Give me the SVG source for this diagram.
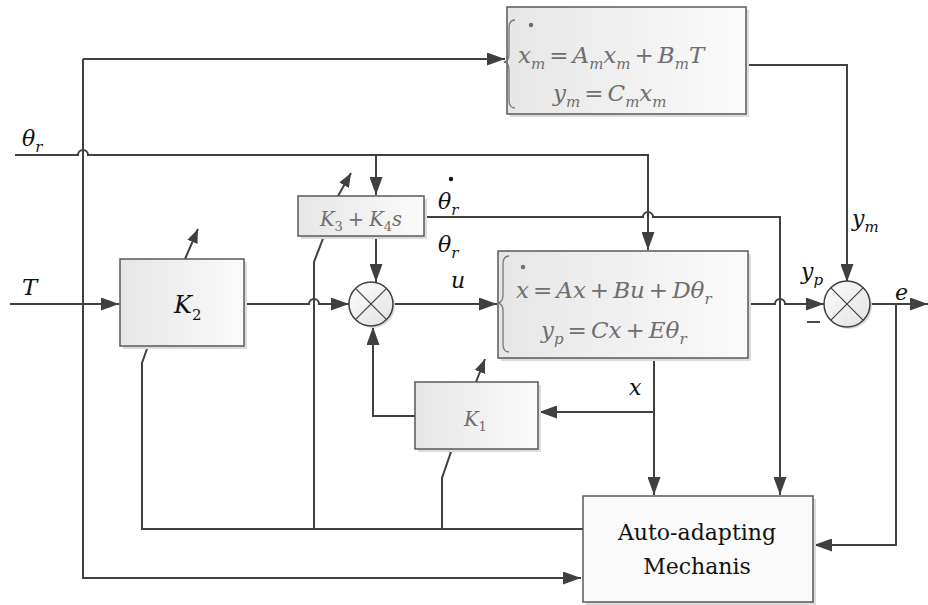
<svg xmlns="http://www.w3.org/2000/svg" width="928" height="605" viewBox="0 0 928 605" font-family="'DejaVu Serif', 'Liberation Serif', serif">
<style>
.ln{fill:none;stroke:#404040;stroke-width:2}
.box{stroke:#5a5a5a;stroke-width:1.5;fill:url(#bg)}
.shd{fill:#dcdcdc;stroke:none}
.sum{stroke:#404040;stroke-width:1.5;fill:url(#sg)}
.x{stroke:#404040;stroke-width:1.2}
.lab{font-style:italic;fill:#111}
.eq{font-style:italic;fill:#6e6e6e;font-size:23px}
.up{font-style:normal}
.br{fill:none;stroke:#777;stroke-width:1.3}
.txt{font-size:22px;fill:#111;text-anchor:middle}
</style>
<defs>
<linearGradient id="bg" x1="0" y1="0" x2="1" y2="0"><stop offset="0" stop-color="#e6e6e6"/><stop offset="1" stop-color="#fbfbfb"/></linearGradient>
<linearGradient id="sg" x1="0" y1="0" x2="1" y2="1"><stop offset="0" stop-color="#fdfdfd"/><stop offset="1" stop-color="#e2e2e2"/></linearGradient>
<marker id="ar" markerUnits="userSpaceOnUse" markerWidth="18" markerHeight="13" refX="18" refY="6.5" orient="auto"><path d="M0,0 L18,6.5 L0,13 z" fill="#404040"/></marker>
<marker id="as" markerUnits="userSpaceOnUse" markerWidth="14" markerHeight="11" refX="14" refY="5.5" orient="auto"><path d="M0,0 L14,5.5 L0,11 z" fill="#404040"/></marker>
</defs>
<rect width="928" height="605" fill="#fff"/>

<g id="connectors">
<path class="ln" d="M83,59 L505,59" marker-end="url(#ar)"/>
<path class="ln" d="M83,59 L83,578 L581,578" marker-end="url(#ar)"/>
<path class="ln" d="M15,155 L78,155 A5,5 0 0 1 88,155 L648,155 L648,250" marker-end="url(#ar)"/>
<path class="ln" d="M376,155 L376,195" marker-end="url(#ar)"/>
<path class="ln" d="M424,217 L643,217 A5,5 0 0 1 653,217 L780,217 L780,495" marker-end="url(#ar)"/>
<path class="ln" d="M376,236 L376,282" marker-end="url(#ar)"/>
<path class="ln" d="M10,304 L119,304" marker-end="url(#ar)"/>
<path class="ln" d="M244,304 L309,304 A5,5 0 0 1 319,304 L349,304" marker-end="url(#ar)"/>
<path class="ln" d="M393,304 L497,304" marker-end="url(#ar)"/>
<path class="ln" d="M748,304 L775,304 A5,5 0 0 1 785,304 L824,304" marker-end="url(#ar)"/>
<path class="ln" d="M746,65 L847,65 L847,282" marker-end="url(#ar)"/>
<path class="ln" d="M870,304 L928,304" marker-end="url(#ar)"/>
<path class="ln" d="M896,304 L896,545 L814,545" marker-end="url(#ar)"/>
<path class="ln" d="M654,358 L654,495" marker-end="url(#ar)"/>
<path class="ln" d="M654,412 L539,412" marker-end="url(#ar)"/>
<path class="ln" d="M415,416 L373,416 L373,327" marker-end="url(#ar)"/>
<path class="ln" d="M583,529 L142,529 L142,363 L148,346"/>
<path class="ln" d="M314,529 L314,262 L324,236"/>
<path class="ln" d="M442,529 L442,478 L452,449"/>
<path class="ln" d="M185,259 L198,229" marker-end="url(#as)"/>
<path class="ln" d="M338,196 L351,173" marker-end="url(#as)"/>
<path class="ln" d="M476,382 L485,359" marker-end="url(#as)"/>
</g>

<g id="model">
<rect class="shd" x="510" y="10" width="239" height="107"/>
<rect class="box" x="507" y="7" width="239" height="107"/>
<path class="br" d="M515,20 Q509,20 509,28 L509,54 Q509,61 504,62 Q509,63 509,70 L509,100 Q509,108 515,108"/>
<circle cx="531" cy="25" r="2.2" fill="#6e6e6e"/>
<text class="eq" x="518" y="63">x<tspan font-size="15" dy="6">m</tspan><tspan class="up" dy="-6" dx="4">=</tspan><tspan dx="4">A</tspan><tspan font-size="15" dy="6">m</tspan><tspan dy="-6">x</tspan><tspan font-size="15" dy="6">m</tspan><tspan class="up" dy="-6" dx="4">+</tspan><tspan dx="4">B</tspan><tspan font-size="15" dy="6">m</tspan><tspan dy="-6">T</tspan></text>
<text class="eq" x="553" y="101">y<tspan font-size="15" dy="6">m</tspan><tspan class="up" dy="-6" dx="4">=</tspan><tspan dx="4">C</tspan><tspan font-size="15" dy="6">m</tspan><tspan dy="-6">x</tspan><tspan font-size="15" dy="6">m</tspan></text>
</g>

<g id="plant">
<rect class="shd" x="501" y="254" width="250" height="107"/>
<rect class="box" x="498" y="251" width="250" height="107"/>
<path class="br" d="M509,256 Q503,256 503,264 L503,295 Q503,302 498,303 Q503,304 503,311 L503,344 Q503,352 509,352"/>
<circle cx="523" cy="267" r="2.2" fill="#6e6e6e"/>
<text class="eq" x="516" y="298">x<tspan class="up" dx="4">=</tspan><tspan dx="4">Ax</tspan><tspan class="up" dx="4">+</tspan><tspan dx="4">Bu</tspan><tspan class="up" dx="4">+</tspan><tspan dx="4">Dθ</tspan><tspan font-size="15" dy="6">r</tspan></text>
<text class="eq" x="541" y="338">y<tspan font-size="15" dy="6">p</tspan><tspan class="up" dy="-6" dx="4">=</tspan><tspan dx="4">Cx</tspan><tspan class="up" dx="4">+</tspan><tspan dx="4">Eθ</tspan><tspan font-size="15" dy="6">r</tspan></text>
</g>

<g id="k3k4">
<rect class="shd" x="301" y="199" width="126" height="40"/>
<rect class="box" x="298" y="196" width="126" height="40"/>
<text class="eq" x="320" y="226" style="font-size:19.5px">K<tspan class="up" font-size="13" dy="5">3</tspan><tspan class="up" dy="-5" dx="5">+</tspan><tspan dx="5">K</tspan><tspan class="up" font-size="13" dy="5">4</tspan><tspan dy="-5">s</tspan></text>
</g>

<g id="k2">
<rect class="shd" x="123" y="262" width="124" height="87"/>
<rect class="box" x="120" y="259" width="124" height="87"/>
<text class="lab" x="174" y="313" font-size="24">K<tspan class="up" font-size="15" dy="7">2</tspan></text>
</g>

<g id="k1">
<rect class="shd" x="418" y="385" width="123" height="67"/>
<rect class="box" x="415" y="382" width="123" height="67"/>
<text class="eq" x="464" y="426" style="font-size:19.5px">K<tspan class="up" font-size="13" dy="5">1</tspan></text>
</g>

<g id="sum1">
<circle cx="373" cy="306" r="22" fill="#dcdcdc"/>
<circle class="sum" cx="371" cy="304" r="22"/>
<line class="x" x1="355.4" y1="288.4" x2="386.6" y2="319.6"/>
<line class="x" x1="386.6" y1="288.4" x2="355.4" y2="319.6"/>
</g>

<g id="sum2">
<circle cx="849" cy="306" r="23" fill="#dcdcdc"/>
<circle class="sum" cx="847" cy="304" r="23"/>
<line class="x" x1="830.7" y1="287.7" x2="863.3" y2="320.3"/>
<line class="x" x1="863.3" y1="287.7" x2="830.7" y2="320.3"/>
</g>

<g id="auto">
<rect class="shd" x="586" y="499" width="230" height="106"/>
<rect x="583" y="496" width="230" height="106" fill="#fafafa" stroke="#5a5a5a" stroke-width="1.5"/>
<text class="txt" x="697" y="540">Auto-adapting</text>
<text class="txt" x="697" y="574">Mechanis</text>
</g>

<g id="labels">
<text class="lab" x="22" y="146" font-size="22">θ<tspan font-size="15" dy="6">r</tspan></text>
<text class="lab" x="22" y="295" font-size="23">T</text>
<text class="lab" x="451" y="288" font-size="22">u</text>
<circle cx="451" cy="179" r="2.2" fill="#111"/>
<text class="lab" x="438" y="209" font-size="22">θ<tspan font-size="15" dy="6">r</tspan></text>
<text class="lab" x="438" y="252" font-size="22">θ<tspan font-size="15" dy="6">r</tspan></text>
<text class="lab" x="629" y="395" font-size="22">x</text>
<text class="lab" x="852" y="226" font-size="22">y<tspan font-size="15" dy="6">m</tspan></text>
<text class="lab" x="801" y="279" font-size="22">y<tspan font-size="15" dy="6">p</tspan></text>
<line x1="807" y1="322" x2="820" y2="322" stroke="#111" stroke-width="1.5"/>
<text class="lab" x="895" y="300" font-size="22">e</text>
</g>
</svg>
